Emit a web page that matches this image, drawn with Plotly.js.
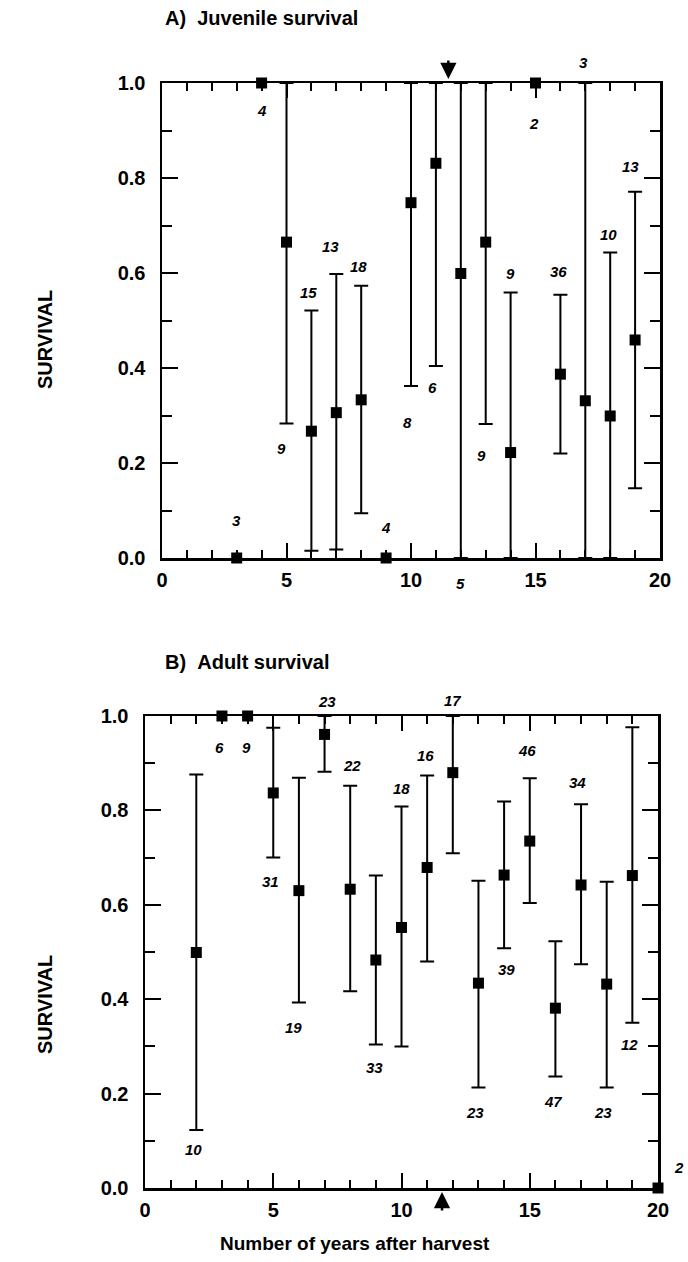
<!DOCTYPE html>
<html>
<head>
<meta charset="utf-8">
<script src="https://cdn.plot.ly/plotly-3.0.1.min.js"></script>
<style>html,body{margin:0;padding:0;background:#fff;}#chart{width:688px;height:1262px;}</style>
</head>
<body>
<div id="chart"></div>
<script>
// ---------- DATA ----------
// Panel A: juvenile survival
var juvYears = [3, 4, 5, 6, 7, 8, 9, 10, 11, 12, 13, 14, 15, 16, 17, 18, 19];
var juvSurv  = [0, 1.0, 0.665, 0.267, 0.306, 0.333, 0, 0.748, 0.831, 0.599, 0.665, 0.222, 1.0, 0.387, 0.331, 0.299, 0.459];
var juvLower = [null, null, 0.283, 0.015, 0.018, 0.094, null, 0.362, 0.404, 0, 0.282, 0, null, 0.22, 0, 0, 0.147];
var juvUpper = [null, null, 1.0, 0.521, 0.598, 0.573, null, 1.0, 1.0, 1.0, 1.0, 0.559, null, 0.554, 1.0, 0.643, 0.771];
var juvN     = [3, 4, 9, 15, 13, 18, 4, 8, 6, 5, 9, 9, 2, 36, 3, 10, 13];

// Panel B: adult survival
var adYears = [2, 3, 4, 5, 6, 7, 8, 9, 10, 11, 12, 13, 14, 15, 16, 17, 18, 19, 20];
var adSurv  = [0.499, 1.0, 1.0, 0.837, 0.63, 0.961, 0.633, 0.483, 0.552, 0.679, 0.88, 0.434, 0.663, 0.735, 0.381, 0.642, 0.432, 0.662, 0];
var adLower = [0.123, null, null, 0.70, 0.393, 0.882, 0.417, 0.304, 0.30, 0.48, 0.709, 0.213, 0.508, 0.604, 0.236, 0.474, 0.213, 0.35, null];
var adUpper = [0.876, null, null, 0.975, 0.869, 1.0, 0.852, 0.662, 0.808, 0.874, 1.0, 0.651, 0.819, 0.868, 0.523, 0.813, 0.649, 0.976, null];
var adN     = [10, 6, 9, 31, 19, 23, 22, 33, 18, 16, 17, 23, 39, 46, 47, 34, 23, 12, 2];

// Tick values
var yTicks = [0, 0.2, 0.4, 0.6, 0.8, 1.0];
var xTicks = [0, 5, 10, 15, 20];

// ---------- LABEL PLACEMENT (layout, not data) ----------
var juvSide = ['up','down','down','up','up','up','up','down','down','down','down','up','down','up','up','up','up'];
var juvDy   = [38,-27,-25,18,27,19,31,-36,-21,-25,-31,19,-40,23,21,18,25];
var juvDx   = [0,0,-5,-3,-6,-3,0,-4,-3,0,-4,0,-2,-2,-2,-2,-5];
var adSide  = ['down','down','down','down','down','up','up','down','up','up','up','down','down','up','down','up','down','down','up'];
var adDy    = [-20,-31,-31,-24,-25,15,20,-23,18,20,16,-25,-21,28,-25,22,-25,-22,21];
var adDx    = [-3,-2,-1,-3,-5,2,2,-1,0,-2,0,-3,2,-3,-2,-4,-4,-3,21];

// ---------- BUILD ----------
function errPlus(v, up) { return v.map(function (d, i) { return up[i] === null ? NaN : up[i] - d; }); }
function errMinus(v, lo) { return v.map(function (d, i) { return lo[i] === null ? NaN : d - lo[i]; }); }

var FONT = 'Liberation Sans, Arial, sans-serif';

function makeTrace(x, y, lo, up, xa, ya) {
  return {
    type: 'scatter', mode: 'markers', x: x, y: y, xaxis: xa, yaxis: ya,
    cliponaxis: false, hoverinfo: 'skip', showlegend: false,
    marker: { symbol: 'square', size: 11, color: '#000' },
    error_y: {
      type: 'data', symmetric: false,
      array: errPlus(y, up), arrayminus: errMinus(y, lo),
      color: '#000', thickness: 2, width: 7
    }
  };
}

var traces = [
  makeTrace(juvYears, juvSurv, juvLower, juvUpper, 'x', 'y'),
  makeTrace(adYears, adSurv, adLower, adUpper, 'x2', 'y2')
];

var annotations = [];
function addLabels(x, v, lo, up, n, side, dx, dy, xr, yr) {
  for (var i = 0; i < x.length; i++) {
    var anchor = side[i] === 'up' ? (up[i] === null ? v[i] : up[i]) : (lo[i] === null ? v[i] : lo[i]);
    annotations.push({
      x: x[i], y: anchor, xref: xr, yref: yr, text: String(n[i]), showarrow: false,
      xanchor: 'center', yanchor: 'middle', xshift: dx[i], yshift: dy[i],
      font: { family: FONT, size: 15, color: '#000', style: 'italic', weight: 'bold' }
    });
  }
}
addLabels(juvYears, juvSurv, juvLower, juvUpper, juvN, juvSide, juvDx, juvDy, 'x', 'y');
addLabels(adYears, adSurv, adLower, adUpper, adN, adSide, adDx, adDy, 'x2', 'y2');

// Panel titles and axis titles
var W = 688, H = 1262;
function px(xp) { return xp / W; }
function py(yp) { return 1 - yp / H; }
var titleFont = { family: FONT, size: 20, color: '#000', weight: 'bold' };
annotations.push({ xref: 'paper', yref: 'paper', x: px(163), y: py(18), xanchor: 'left', yanchor: 'middle',
  text: 'A)\u00A0\u00A0Juvenile survival', showarrow: false, font: titleFont });
annotations.push({ xref: 'paper', yref: 'paper', x: px(163), y: py(662), xanchor: 'left', yanchor: 'middle',
  text: 'B)\u00A0\u00A0Adult survival', showarrow: false, font: titleFont });
annotations.push({ xref: 'paper', yref: 'paper', x: px(45), y: py(340), xanchor: 'center', yanchor: 'middle',
  text: 'SURVIVAL', textangle: -90, showarrow: false, font: { family: FONT, size: 20, color: '#000', weight: 'bold' } });
annotations.push({ xref: 'paper', yref: 'paper', x: px(45), y: py(1005), xanchor: 'center', yanchor: 'middle',
  text: 'SURVIVAL', textangle: -90, showarrow: false, font: { family: FONT, size: 20, color: '#000', weight: 'bold' } });
annotations.push({ xref: 'paper', yref: 'paper', x: px(355), y: py(1243), xanchor: 'center', yanchor: 'middle',
  text: 'Number of years after harvest', showarrow: false, font: { family: FONT, size: 19, color: '#000', weight: 'bold' } });

// Arrows marking the harvest reference
annotations.push({ x: 11.5, y: 1.0, xref: 'x', yref: 'y', yshift: 4, text: '', showarrow: true,
  ax: 0, ay: -20, arrowhead: 2, arrowsize: 1.3, arrowwidth: 2.5, arrowcolor: '#000' });
annotations.push({ x: 11.58, y: 0, xref: 'x2', yref: 'y2', yshift: -4, text: '', showarrow: true,
  ax: 0, ay: 20, arrowhead: 2, arrowsize: 1.3, arrowwidth: 2.5, arrowcolor: '#000' });

var tickFont = { family: FONT, size: 20, color: '#000', weight: 'bold' };
function xAxis(domain, anchor) {
  return {
    domain: domain, anchor: anchor, range: [0, 20], tickmode: 'array', tickvals: xTicks,
    ticktext: xTicks.map(String), ticks: 'inside', ticklen: 15, tickwidth: 2, tickcolor: '#000',
    minor: { dtick: 1, tick0: 0, ticks: 'inside', ticklen: 8, tickwidth: 2, tickcolor: '#000' },
    showline: true, linewidth: 2.5, linecolor: '#000', mirror: 'allticks',
    showgrid: false, zeroline: false, tickfont: tickFont, ticklabelstandoff: 2
  };
}
function yAxis(domain, anchor) {
  return {
    domain: domain, anchor: anchor, range: [0, 1], tickmode: 'array', tickvals: yTicks,
    ticktext: yTicks.map(function (t) { return t.toFixed(1); }), ticks: 'inside', ticklen: 16, tickwidth: 2, tickcolor: '#000',
    minor: { dtick: 0.1, tick0: 0, ticks: 'inside', ticklen: 10, tickwidth: 2, tickcolor: '#000' },
    showline: true, linewidth: 2.5, linecolor: '#000', mirror: 'allticks',
    showgrid: false, zeroline: false, tickfont: tickFont, ticklabelstandoff: 10
  };
}

var layout = {
  width: W, height: H, margin: { l: 0, r: 0, t: 0, b: 0 },
  paper_bgcolor: '#fff', plot_bgcolor: '#fff', showlegend: false,
  xaxis: xAxis([px(162), px(660)], 'y'),
  yaxis: yAxis([py(558), py(83)], 'x'),
  xaxis2: xAxis([px(145), px(658)], 'y2'),
  yaxis2: yAxis([py(1188), py(716)], 'x2'),
  annotations: annotations
};

Plotly.newPlot('chart', traces, layout, { displayModeBar: false, staticPlot: true });
</script>
</body>
</html>
